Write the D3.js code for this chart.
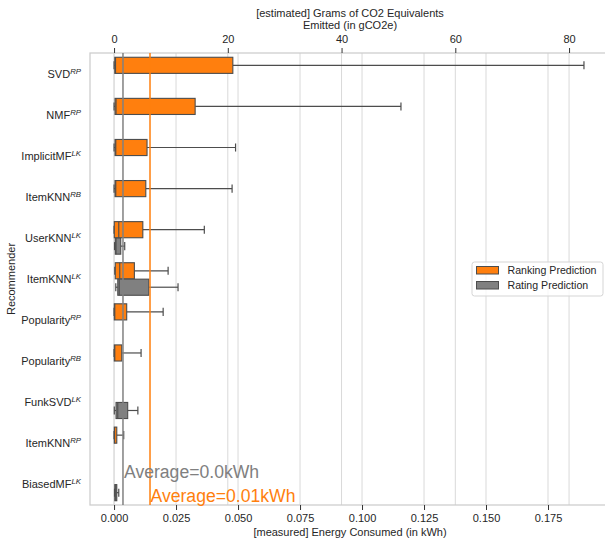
<!DOCTYPE html>
<meta charset="utf-8">
<head>
	<title>Energy per recommender</title>
	<script type="text/javascript" src="https://d3js.org/d3.v7.min.js"></script>
	<style>
		body { margin: 0; background: #fff; }
		text { font-family: "Liberation Sans", Arial, sans-serif; fill: #262626; }
		.grid line { stroke: #d9d9d9; stroke-width: 1; }
		.spine { stroke: #cccccc; stroke-width: 1.25; fill: none; }
	</style>
</head>
<body>
<div id="chart"></div>
<script>

// recommender names and the library they come from (shown as superscript)
var algos = ["SVD", "NMF", "ImplicitMF", "ItemKNN", "UserKNN", "ItemKNN", "Popularity", "Popularity", "FunkSVD", "ItemKNN", "BiasedMF"];
var libs  = ["RP", "RP", "LK", "RB", "LK", "LK", "RP", "RB", "LK", "RP", "LK"];

// box stats in kWh: [low whisker, q1, median, q3, high whisker], null = no box
var ranking = [
	[0, 0.0003, 0.0006, 0.0479, 0.1895],
	[0, 0.0004, 0.0008, 0.0327, 0.1157],
	[0, 0.0004, 0.0007, 0.0133, 0.0490],
	[0, 0.0004, 0.0007, 0.0128, 0.0476],
	[0, 0.0001, 0.0019, 0.0116, 0.0364],
	[0.0003, 0.0005, 0.0023, 0.0082, 0.0218],
	[0, 0.0001, 0.0003, 0.0051, 0.0198],
	[0, 0.0001, 0.0003, 0.0031, 0.0109],
	null,
	[0, 0.0001, 0.0002, 0.0011, 0.0039],
	null
];
var rating = [
	null, null, null, null,
	[0.0002, 0.0005, 0.0008, 0.0027, 0.0043],
	[0.0007, 0.0015, 0.0021, 0.0140, 0.0258],
	null, null,
	[0.0001, 0.0008, 0.0015, 0.0055, 0.0096],
	null,
	[0.0002, 0.0003, 0.0007, 0.0011, 0.0019]
];

var hueNames = ["Ranking Prediction", "Rating Prediction"];
var hueColors = ["#ff7f0e", "#808080"];
var averages = [0.0145, 0.0036];   // orange, gray
var avgLabels = ["Average=0.01kWh", "Average=0.0kWh"];

var kwhTicks = [0, 0.025, 0.05, 0.075, 0.1, 0.125, 0.15, 0.175];
var gramTicks = [0, 20, 40, 60, 80];
var gramsPerKwh = 436;

var W = 605, H = 544;
var pL = 90, pR = 610, pT = 53, pB = 505;

var svg = d3.select("#chart").append("svg")
	.attr("width", W).attr("height", H);

var x = d3.scaleLinear().domain([-0.0097, 0.2]).range([pL, pR]);
var xg = d3.scaleLinear().domain([-0.0097 * gramsPerKwh, 0.2 * gramsPerKwh]).range([pL, pR]);
var y = d3.scaleBand().domain(d3.range(algos.length)).range([pT, pB]).padding(0);
var bw = y.bandwidth();

// grid lines for both axes
var grid = svg.append("g").attr("class", "grid");
grid.selectAll(".gk").data(kwhTicks).enter().append("line")
	.attr("x1", d => x(d)).attr("x2", d => x(d)).attr("y1", pT).attr("y2", pB);
grid.selectAll(".gg").data(gramTicks).enter().append("line")
	.attr("x1", d => xg(d)).attr("x2", d => xg(d)).attr("y1", pT).attr("y2", pB);

// spines
svg.append("rect").attr("class", "spine")
	.attr("x", pL).attr("y", pT).attr("width", pR - pL).attr("height", pB - pT);

// axes
var xAxis = d3.axisBottom(x).tickValues(kwhTicks).tickFormat(d3.format(".3f")).tickSize(5).tickPadding(4);
var gx = svg.append("g").attr("transform", "translate(0," + pB + ")").call(xAxis);
var xAxisTop = d3.axisTop(xg).tickValues(gramTicks).tickFormat(d3.format("d")).tickSize(5).tickPadding(5);
var gt = svg.append("g").attr("transform", "translate(0," + pT + ")").call(xAxisTop);
[gx, gt].forEach(function(g) {
	g.select(".domain").remove();
	g.selectAll(".tick line").attr("stroke", "#333").attr("stroke-width", 1);
	g.selectAll(".tick text").style("font-size", "11px").attr("fill", "#262626");
});

// category labels
var ylab = svg.append("g");
algos.forEach(function(a, i) {
	var t = ylab.append("text")
		.attr("x", 81).attr("y", y(i) + bw / 2 + 4)
		.attr("text-anchor", "end").style("font-size", "11px");
	t.append("tspan").text(a);
	t.append("tspan").attr("dy", -4).style("font-size", "7.8px").style("font-style", "italic").text(libs[i]);
});

// boxes
var edge = "#4d4d4d";
var slot = bw * 0.4, boxH = slot * 0.98;
var boxes = svg.append("g");
[ranking, rating].forEach(function(series, h) {
	series.forEach(function(s, i) {
		if (!s) return;
		var cy = y(i) + bw / 2 + (h === 0 ? -slot / 2 : slot / 2);
		var g = boxes.append("g");
		// whiskers
		g.append("line").attr("x1", x(s[0])).attr("x2", x(s[1])).attr("y1", cy).attr("y2", cy)
			.attr("stroke", edge).attr("stroke-width", 1.2);
		g.append("line").attr("x1", x(s[3])).attr("x2", x(s[4])).attr("y1", cy).attr("y2", cy)
			.attr("stroke", edge).attr("stroke-width", 1.2);
		// caps
		[s[0], s[4]].forEach(function(v) {
			g.append("line").attr("x1", x(v)).attr("x2", x(v))
				.attr("y1", cy - boxH / 4).attr("y2", cy + boxH / 4)
				.attr("stroke", edge).attr("stroke-width", 1.2);
		});
		g.append("rect").attr("x", x(s[1])).attr("width", x(s[3]) - x(s[1]))
			.attr("y", cy - boxH / 2).attr("height", boxH)
			.attr("fill", hueColors[h]).attr("stroke", edge).attr("stroke-width", 1.1);
		g.append("line").attr("x1", x(s[2])).attr("x2", x(s[2]))
			.attr("y1", cy - boxH / 2).attr("y2", cy + boxH / 2)
			.attr("stroke", edge).attr("stroke-width", 1.1);
	});
});

// average lines
var avgColors = [hueColors[0], hueColors[1]];
averages.forEach(function(v, k) {
	svg.append("line").attr("x1", x(v)).attr("x2", x(v)).attr("y1", pT).attr("y2", pB)
		.attr("stroke", avgColors[k]).attr("stroke-width", 1.5);
});
svg.append("text").attr("x", x(averages[1]) + 1).attr("y", y(10) + bw / 2 - 6)
	.style("font-size", "17.6px").style("fill", avgColors[1]).text(avgLabels[1]);
svg.append("text").attr("x", x(averages[0]) + 0.5).attr("y", y(10) + bw / 2 + 18)
	.style("font-size", "17.6px").style("fill", avgColors[0]).text(avgLabels[0]);

// axis titles
svg.append("text").attr("x", (pL + pR) / 2).attr("y", 536)
	.attr("text-anchor", "middle").style("font-size", "11px")
	.text("[measured] Energy Consumed (in kWh)");
svg.append("text").attr("x", (pL + pR) / 2).attr("y", 17)
	.attr("text-anchor", "middle").style("font-size", "11px")
	.text("[estimated] Grams of CO2 Equivalents");
svg.append("text").attr("x", (pL + pR) / 2).attr("y", 29)
	.attr("text-anchor", "middle").style("font-size", "11px")
	.text("Emitted (in gCO2e)");
svg.append("text").attr("transform", "translate(15," + ((pT + pB) / 2) + ") rotate(-90)")
	.attr("text-anchor", "middle").style("font-size", "11px").text("Recommender");

// legend
var lg = svg.append("g").attr("transform", "translate(472,262)");
lg.append("rect").attr("width", 131).attr("height", 34).attr("rx", 2.5)
	.attr("fill", "#fff").attr("fill-opacity", 0.8).attr("stroke", "#d5d5d5");
hueNames.forEach(function(n, k) {
	lg.append("rect").attr("x", 4.5).attr("y", 4.5 + k * 15).attr("width", 22).attr("height", 7.5)
		.attr("fill", hueColors[k]).attr("stroke", edge).attr("stroke-width", 1);
	lg.append("text").attr("x", 35.5).attr("y", 12 + k * 15).style("font-size", "10.6px").text(n);
});

</script>
</body>
</html>
